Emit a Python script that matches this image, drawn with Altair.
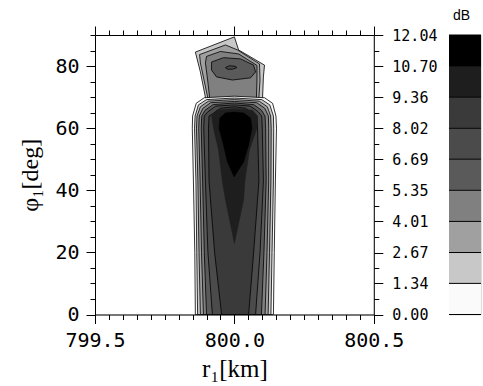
import altair as alt
import pandas as pd

# ---------------- axis ticks / labels ----------------
R_MAJOR = [799.5, 800.0, 800.5]
R_MINOR = [799.55, 799.60, 799.65, 799.70, 799.75, 799.80, 799.85, 799.90, 799.95,
           800.05, 800.10, 800.15, 800.20, 800.25, 800.30, 800.35, 800.40, 800.45]
PHI_MAJOR = [0, 20, 40, 60, 80]
PHI_MINOR = [5, 10, 15, 25, 30, 35, 45, 50, 55, 65, 70, 75, 85, 90]
DB_LEVELS = [0.00, 1.34, 2.67, 4.01, 5.35, 6.69, 8.02, 9.36, 10.70, 12.04]
DB_MINOR = [0.67, 2.01, 3.34, 4.68, 6.02, 7.36, 8.69, 10.03, 11.37]
BAND_COLORS = ["#fafafa", "#c8c8c8", "#a0a0a0", "#808080", "#5a5a5a",
               "#4b4b4b", "#3a3a3a", "#1e1e1e", "#000000"]

# ---------------- main column: contour levels 0.00 .. 8.02 ----------------
COL_SIDE_PHI = [0, 20, 43, 60]
COL_LEFT_R = [
    [799.860, 799.858, 799.853, 799.849],
    [799.868, 799.865, 799.862, 799.857],
    [799.878, 799.873, 799.869, 799.864],
    [799.889, 799.882, 799.877, 799.872],
    [799.900, 799.892, 799.886, 799.881],
    [799.921, 799.905, 799.896, 799.890],
    [799.954, 799.929, 799.909, 799.907],
]
COL_RIGHT_R = [
    [800.140, 800.143, 800.147, 800.151],
    [800.131, 800.135, 800.140, 800.141],
    [800.121, 800.126, 800.131, 800.132],
    [800.110, 800.117, 800.123, 800.123],
    [800.097, 800.106, 800.114, 800.112],
    [800.076, 800.092, 800.104, 800.100],
    [800.051, 800.069, 800.088, 800.083],
]
COL_CAP_R = [
    [799.850, 799.863, 799.892, 800.000, 800.108, 800.137, 800.149],
    [799.859, 799.871, 799.900, 800.000, 800.098, 800.127, 800.140],
    [799.866, 799.878, 799.907, 800.000, 800.089, 800.118, 800.130],
    [799.874, 799.887, 799.915, 800.000, 800.080, 800.109, 800.122],
    [799.883, 799.895, 799.924, 800.000, 800.069, 800.097, 800.110],
    [799.892, 799.905, 799.933, 800.000, 800.057, 800.085, 800.098],
    [799.909, 799.921, 799.950, 800.000, 800.040, 800.069, 800.081],
]
COL_CAP_PHI = [
    [63.9, 68.0, 69.8, 70.3, 69.8, 68.0, 63.9],
    [63.9, 67.5, 69.2, 69.7, 69.2, 67.5, 63.9],
    [63.9, 66.9, 68.7, 69.2, 68.7, 66.9, 63.9],
    [63.9, 66.4, 68.2, 68.6, 68.2, 66.4, 63.9],
    [63.9, 65.8, 67.6, 68.1, 67.6, 65.8, 63.9],
    [63.9, 65.3, 67.1, 67.5, 67.1, 65.3, 63.9],
    [63.9, 64.6, 66.4, 66.9, 66.4, 64.6, 63.9],
]

# inner filled regions (no contour line): 9.36 and 10.70 dB
CORE_R = [800.000, 799.968, 799.956, 799.943, 799.925, 799.918, 799.936, 800.000,
          800.065, 800.083, 800.081, 800.054, 800.038, 800.033]
CORE_PHI = [22.9, 36.9, 43.3, 53.0, 60.0, 63.9, 65.8, 66.3, 65.8, 63.9, 60.0, 53.0, 43.3, 36.9]
PEAK_R = [799.999, 799.975, 799.961, 799.945, 799.948, 799.968, 800.000, 800.033,
          800.058, 800.063, 800.051, 800.033]
PEAK_PHI = [44.3, 49.1, 54.6, 60.0, 63.3, 64.9, 65.2, 64.9, 63.3, 60.0, 54.6, 49.1]

# ---------------- upper lobe: contour levels 1.34 .. 6.69 ----------------
LOBE_BAND = [1, 2, 3, 4, 5]
LOBE_R = [
    [799.896, 799.896, 799.878, 799.860, 800.000, 800.015, 800.108, 800.104, 800.101, 800.101],
    [799.904, 799.904, 799.891, 799.878, 799.875, 799.968, 800.011, 800.090, 800.092, 800.088, 800.088],
    [799.911, 799.911, 799.904, 799.896, 799.900, 799.950, 800.015, 800.081, 800.081, 800.079, 800.079],
    [799.918, 799.961, 800.022, 800.069, 800.076, 800.058, 799.993, 799.936, 799.918],
    [799.968, 799.982, 800.004, 800.009, 799.993, 799.975],
]
LOBE_PHI = [
    [65.2, 70.0, 78.1, 84.5, 89.4, 85.2, 80.3, 76.5, 69.7, 65.2],
    [65.2, 70.0, 75.5, 81.0, 83.7, 86.8, 85.2, 80.7, 75.5, 70.0, 65.2],
    [65.2, 70.0, 75.5, 81.0, 83.1, 84.7, 83.9, 80.2, 75.5, 70.0, 65.2],
    [81.3, 82.7, 82.3, 80.3, 78.1, 76.2, 75.5, 76.5, 78.7],
    [79.5, 80.1, 79.9, 79.5, 79.0, 79.0],
]

W, H = 278.8, 279.5
XS = alt.Scale(domain=[799.5, 800.5], nice=False, zero=False)
YS = alt.Scale(domain=[0, 90], nice=False, zero=False)
DBS = alt.Scale(domain=[0, 12.04], nice=False, zero=False)

LABEL_FONT = "DejaVu Sans Mono"
TITLE_FONT = "Liberation Serif"
AX = dict(domainColor="black", tickColor="black", labelColor="black", titleColor="black",
          grid=False, domainWidth=1, tickWidth=1, labelFont=LABEL_FONT, labelFlush=False)


def poly_layer(rs, phis, color, stroke=True):
    df = pd.DataFrame({"r": rs, "phi": phis, "i": list(range(len(rs)))})
    if stroke:
        mk = dict(interpolate="linear-closed", fill=color, stroke="black", strokeWidth=0.8)
    else:
        mk = dict(interpolate="linear-closed", fill=color, stroke=color, strokeWidth=0.5)
    return alt.Chart(df).mark_line(**mk).encode(
        x=alt.X("r:Q", scale=XS, axis=None),
        y=alt.Y("phi:Q", scale=YS, axis=None),
        order="i:Q",
    )


layers = []
for band, rs, phis in zip(LOBE_BAND, LOBE_R, LOBE_PHI):
    layers.append(poly_layer(rs, phis, BAND_COLORS[band]))
for k in range(len(COL_LEFT_R)):
    rs = COL_LEFT_R[k] + COL_CAP_R[k] + COL_RIGHT_R[k][::-1]
    phis = COL_SIDE_PHI + COL_CAP_PHI[k] + COL_SIDE_PHI[::-1]
    layers.append(poly_layer(rs, phis, BAND_COLORS[k]))
layers.append(poly_layer(CORE_R, CORE_PHI, BAND_COLORS[7], stroke=False))
layers.append(poly_layer(PEAK_R, PEAK_PHI, BAND_COLORS[8], stroke=False))

ax_df = pd.DataFrame({"r": [800.0], "phi": [45.0], "db": [6.0]})
base_ax = alt.Chart(ax_df).mark_point(opacity=0)

ax_main = base_ax.encode(
    x=alt.X("r:Q", scale=XS, axis=alt.Axis(
        orient="bottom", values=R_MAJOR, format=".1f", tickSize=9, labelFontSize=20,
        labelPadding=7, title="r₁[km]", titleFont=TITLE_FONT, titleFontSize=25,
        titleFontWeight="normal", titlePadding=6, **AX)),
    y=alt.Y("phi:Q", scale=YS, axis=alt.Axis(
        orient="left", values=PHI_MAJOR, format="d", tickSize=9, labelFontSize=20,
        labelPadding=7, title="φ₁[deg]", titleFont=TITLE_FONT, titleFontSize=24,
        titleFontWeight="normal", titlePadding=12, **AX)),
)
ax_minor = base_ax.encode(
    x=alt.X("r:Q", scale=XS, axis=alt.Axis(
        orient="bottom", values=R_MINOR, tickSize=5, labels=False, domain=False, title=None, **AX)),
    y=alt.Y("phi:Q", scale=YS, axis=alt.Axis(
        orient="left", values=PHI_MINOR, tickSize=5, labels=False, domain=False, title=None, **AX)),
)
ax_top_right = base_ax.encode(
    x=alt.X("r:Q", scale=XS, axis=alt.Axis(
        orient="top", values=R_MAJOR, tickSize=9, labels=False, title=None, **AX)),
    y=alt.Y("db:Q", scale=DBS, axis=alt.Axis(
        orient="right", values=DB_LEVELS, format=".2f", tickSize=9, labelFontSize=15,
        labelPadding=9, title=None, **AX)),
)
ax_top_right_minor = base_ax.encode(
    x=alt.X("r:Q", scale=XS, axis=alt.Axis(
        orient="top", values=R_MINOR, tickSize=5, labels=False, domain=False, title=None, **AX)),
    y=alt.Y("db:Q", scale=DBS, axis=alt.Axis(
        orient="right", values=DB_MINOR, tickSize=5, labels=False, domain=False, title=None, **AX)),
)

main = alt.layer(*layers, ax_main, ax_minor, ax_top_right, ax_top_right_minor).resolve_scale(
    y="independent"
).resolve_axis(x="independent", y="independent").properties(width=W, height=H)

# ---------------- colour bar ----------------
cb_df = pd.DataFrame({"lo": DB_LEVELS[:-1], "hi": DB_LEVELS[1:], "col": BAND_COLORS})
cb_rect = alt.Chart(cb_df).mark_rect().encode(
    y=alt.Y("lo:Q", scale=DBS, axis=alt.Axis(
        orient="left", values=DB_LEVELS, tickSize=4, labels=False, title=None, **AX)),
    y2="hi:Q",
    fill=alt.Fill("col:N", scale=None),
)
cb_rule = alt.Chart(pd.DataFrame({"lvl": DB_LEVELS})).mark_rule(
    color="black", strokeWidth=1
).encode(y=alt.Y("lvl:Q", scale=DBS, axis=None))

cbar = alt.layer(cb_rect, cb_rule).properties(
    width=32, height=H,
    title=alt.TitleParams("dB", anchor="start", frame="group", font="Liberation Sans",
                          fontSize=14, fontWeight="normal", color="black", offset=12, dx=4),
)

chart = alt.hconcat(main, cbar, spacing=10).properties(
    padding={"left": 18, "top": 8, "right": 0, "bottom": 0}
).configure_view(stroke=None).configure(background="white")

chart.save("out.html", embed_options={"renderer": "svg", "actions": False})
